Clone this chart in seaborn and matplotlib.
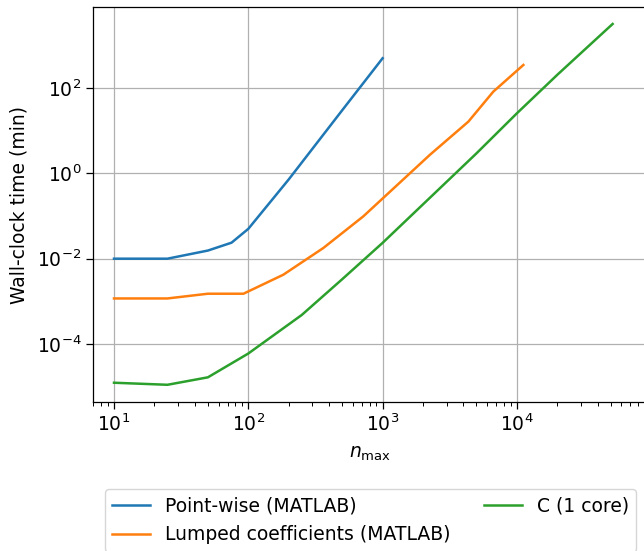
import numpy as np
import pandas as pd
import matplotlib
matplotlib.use("Agg")
import matplotlib.pyplot as plt
import matplotlib.ticker as mticker
import seaborn as sns

# values (log-log)
n_pointwise = [10, 25, 50, 75, 100, 200, 500, 1000]
t_pointwise = [0.0100, 0.0100, 0.0155, 0.0237, 0.050, 0.72, 30, 497]

n_lumped = [10, 25, 50, 92, 182, 362, 718, 2254, 4345, 6670, 11170]
t_lumped = [0.00117, 0.00117, 0.00151, 0.00151, 0.0042, 0.0178, 0.098, 2.73, 16.2, 82, 346]

n_c = [10, 25, 50, 100, 250, 500, 1000, 2000, 5000, 10000, 20000, 51600]
t_c = [1.24e-5, 1.11e-5, 1.66e-5, 6.0e-5, 4.8e-4, 3.3e-3, 0.0235, 0.188, 2.94, 25.5, 204, 3160]

labels = ["Point-wise (MATLAB)", "Lumped coefficients (MATLAB)", "C (1 core)"]
colors = ["#1f77b4", "#ff7f0e", "#2ca02c"]
y_ticks = [1e-4, 1e-2, 1e0, 1e2]

plt.rcParams['font.size'] = 13.5
plt.rcParams['axes.linewidth'] = 0.9
plt.rcParams['xtick.major.size'] = 5
plt.rcParams['ytick.major.size'] = 5
plt.rcParams['xtick.minor.size'] = 3
plt.rcParams['xtick.major.width'] = 0.9
plt.rcParams['ytick.major.width'] = 0.9
plt.rcParams['xtick.minor.width'] = 0.7

fig = plt.figure(figsize=(6.44, 5.51), dpi=100)
ax = fig.add_axes([93/644, 1-402/551, (648-93)/644, (402-7)/551])

series = [(n_pointwise, t_pointwise), (n_lumped, t_lumped), (n_c, t_c)]
for (n, t), lab, col in zip(series, labels, colors):
    df = pd.DataFrame({"n": n, "t": t})
    sns.lineplot(data=df, x="n", y="t", ax=ax, label=lab, color=col,
                 linewidth=1.8, sort=False, estimator=None)

ax.set_xscale("log")
ax.set_yscale("log")
ax.set_xlim(10**0.8436, 10**4.976)
ax.set_ylim(10**-5.358, 10**3.897)
ax.yaxis.set_major_locator(mticker.FixedLocator(y_ticks))
ax.yaxis.set_minor_locator(mticker.NullLocator())
ax.grid(True, which="major", color="#b0b0b0", linewidth=0.9)
ax.set_xlabel(r"$n_{\max}$", labelpad=6)
ax.set_ylabel("Wall-clock time (min)", labelpad=6)
ax.spines['right'].set_visible(False)

ax.legend(loc="upper center", bbox_to_anchor=(0.5, -0.197), ncol=2,
          frameon=True, fontsize=13.5, columnspacing=1.8)

fig.savefig("out.png", dpi=100)
